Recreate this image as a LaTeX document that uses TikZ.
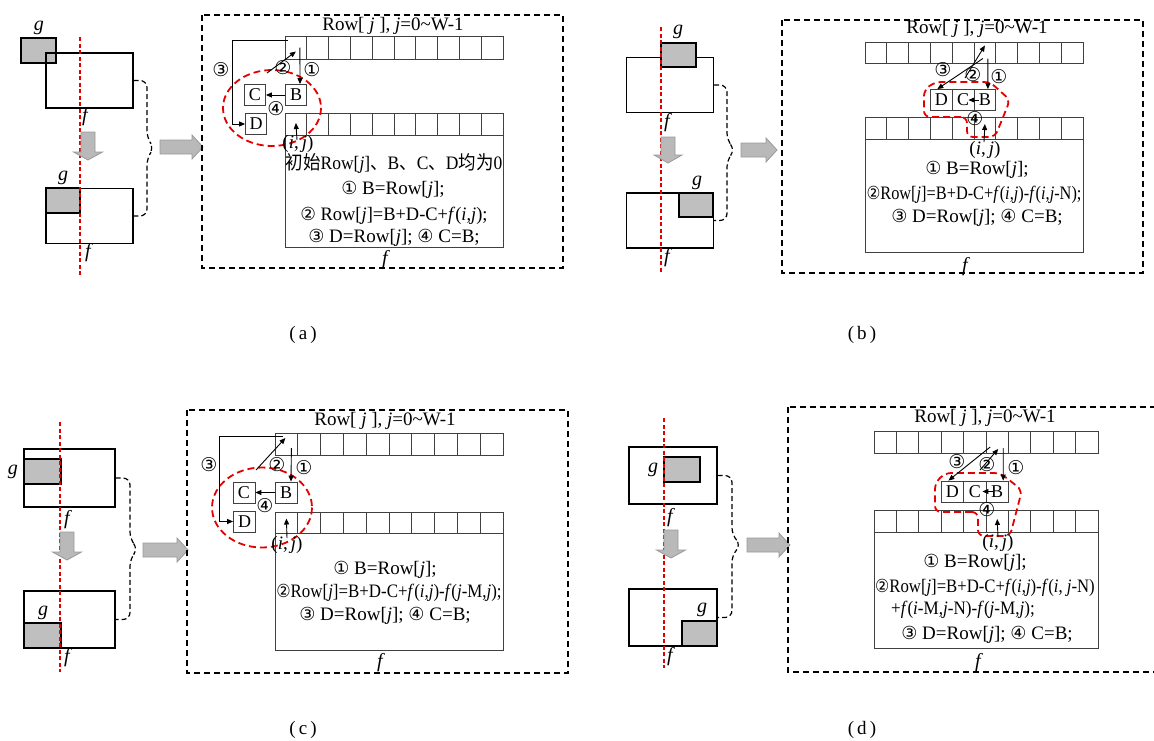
\documentclass[tikz,border=0pt]{standalone}
\usepackage{fontspec}
\usepackage{graphicx}
\setmainfont{Liberation Serif}
\newfontfamily\cjk{Noto Sans CJK SC}
\newfontfamily\circfont{DejaVu Sans}
\usetikzlibrary{arrows.meta, positioning}

\newcommand{\ci}[1]{{\circfont\fontsize{18}{18}\selectfont #1}}
\newcommand{\zh}[1]{{\cjk #1}}
\newcommand{\jj}{\textit{j}}

\tikzset{
  plane/.style={draw, line width=1.3pt, minimum width=87, minimum height=55, inner sep=0},
  tmpl/.style={draw, line width=1.3pt, fill=gray!50, inner sep=0},
  lab/.style={font=\fontsize{20}{20}\selectfont\itshape, inner sep=0},
  axis/.style={red!90!black, line width=1.1pt, dash pattern=on 4pt off 2.5pt},
  brace/.style={line width=1.2pt, dash pattern=on 5pt off 3pt, rounded corners=7},
  fat/.style={draw=gray!80, fill=gray!55, line width=0.8pt},
  panel/.style={line width=1.3pt, dash pattern=on 6pt off 4pt},
  cell/.style={draw=black!75, line width=0.8pt, inner sep=0},
  reg/.style={draw=black!75, line width=0.8pt, minimum width=21, minimum height=21, inner sep=0, font=\fontsize{18}{18}\selectfont},
  win/.style={red!90!black, line width=1.8pt, dash pattern=on 7pt off 4pt},
  flow/.style={-{Triangle[length=6pt,width=5pt]}, line width=0.9pt},
  num/.style={font=\circfont\fontsize{19}{19}\selectfont, inner sep=0},
  txt/.style={font=\fontsize{19}{19}\selectfont, inner sep=0},
}

\begin{document}
\begin{tikzpicture}[x=1pt, y=-1pt]
\useasboundingbox (0,0) rectangle (1154,740);

% ---------- (a) ----------
\node[tmpl, minimum width=35, minimum height=25] (ga1) at (38.5,50.5) {};
\node[plane] (fa1) at (89.5,80.5) {};
\node[lab] (lga1) at (39,28) {g};
\node[lab] (lfa1) at (85,117) {f};
\node[plane] (fa2) at (89.5,216) {};
\node[tmpl, minimum width=34, minimum height=25] (ga2) at (63,200.5) {};
\node[lab] (lga2) at (63,178) {g};
\node[lab] (lfa2) at (88,253) {f};
\draw[axis] (80,37) -- (80,277);
\filldraw[fat] (81,132) -- (81,152) -- (73.5,152) -- (88,160) -- (102.5,152) -- (95,152) -- (95,132) -- cycle;
\filldraw[fat] (160,140) -- (192,140) -- (192,135) -- (203,147) -- (192,159) -- (192,154) -- (160,154) -- cycle;
\coordinate (tipa) at (154,148);
\draw[brace] (fa1.east) -| (147,138) -- (tipa) -- (147,158) |- (fa2.east);

\draw[panel] (202,15) rectangle (563,268);
\node[txt] (tia) at (393,26) {Row[ \jj\ ], \jj=0\textasciitilde W-1};
\node[cell, minimum width=218, minimum height=134] (Fa) at (394,180) {};
\foreach \k in {1,...,10} {
  \node[cell, minimum width=21.8, minimum height=23] (ta\k) at ({274.1+21.8*\k},47.5) {};
  \node[cell, minimum width=21.8, minimum height=22] (ba\k) at ({274.1+21.8*\k},124) {};
}
\node[reg] (Ba) at (296,95) {B};
\node[reg] (Ca) at (255,95) {C};
\node[reg] (Da) at (256,124) {D};
\draw[win] (272,108) ellipse (49 and 38);
\coordinate (s2a) at (267,73);
\coordinate (ija) at (297,140);
\draw[flow] ([xshift=4]ta1.center) -- ([xshift=4]Ba.north);
\draw[flow] (s2a) -- ([yshift=-4]ta1.center);
\draw[flow] ([shift={(3,5)}]ta1.north west) -- ++(-55,0) |- (Da.west);
\draw[flow] (Ba.west) -- (Ca.east);
\draw[flow] (ija) -- ([yshift=1]ba1.center);
\node[num] (n3a) at (221,70) {③};
\node[num] (n2a) at (283,68) {②};
\node[num] (n1a) at (312,70) {①};
\node[num] (n4a) at (276,109) {④};
\node[txt] (ija-l) at (298,144) {(\textit{i},\,\jj)};
\node[txt] (la1) at (394,164) {\scalebox{0.92}[1]{\zh{初始}Row[\jj]\zh{、}B\zh{、}C\zh{、}D\zh{均为}0}};
\node[txt] (la2) at (393,190) {\ci{①} B=Row[\jj];};
\node[txt] (la3) at (394,216) {\scalebox{0.97}[1]{\ci{②} Row[\jj]=B+D-C+\textit{f}(\textit{i},\jj);}};
\node[txt] (la4) at (394,238) {\ci{③} D=Row[\jj]; \ci{④} C=B;};
\node[lab] (lFa) at (385,260) {f};
\node[txt] (capa) at (303,335) {(\,a\,)};

% ---------- (b) ----------
\node[plane] (fb1) at (670,85) {};
\node[tmpl, minimum width=35, minimum height=24] (gb1) at (678.5,55) {};
\node[lab] (lgb1) at (678,32) {g};
\node[lab] (lfb1) at (667,123) {f};
\node[plane] (fb2) at (670,220.5) {};
\node[tmpl, minimum width=34, minimum height=24] (gb2) at (696,205) {};
\node[lab] (lgb2) at (697,183) {g};
\node[lab] (lfb2) at (667,258) {f};
\draw[axis] (661,27) -- (661,272);
\filldraw[fat] (661,137) -- (661,155) -- (654,155) -- (668,163) -- (682,155) -- (675,155) -- (675,137) -- cycle;
\filldraw[fat] (741,143) -- (766,143) -- (766,138) -- (777,150) -- (766,162) -- (766,157) -- (741,157) -- cycle;
\coordinate (tipb) at (735,150);
\draw[brace] (fb1.east) -| (727,140) -- (tipb) -- (727,160) |- (fb2.east);

\draw[panel] (782,20) rectangle (1143,273);
\node[txt] (tib) at (977,29) {Row[ \jj\ ], \jj=0\textasciitilde W-1};
\node[cell, minimum width=218, minimum height=135] (Fb) at (974,184.5) {};
\foreach \k in {1,...,10} {
  \node[cell, minimum width=21.8, minimum height=21] (tb\k) at ({854.1+21.8*\k},52.5) {};
  \node[cell, minimum width=21.8, minimum height=22] (bb\k) at ({854.1+21.8*\k},128) {};
}
\node[reg, minimum width=21.8] (Db) at (941.3,100) {D};
\node[reg, minimum width=21.8] (Cb) at (963.1,100) {C};
\node[reg, minimum width=21.8] (Bb) at (984.9,100) {B};
\draw[win, rounded corners=6] (967,117) -- (924,117) -- (924,90) -- (935,82) -- (990,82) -- (1010,100) -- (995,137) -- (967,137) -- cycle;
\coordinate (s2b) at (965,78);
\coordinate (ijb) at (984,142);
\draw[flow] ([shift={(3,6)}]tb6.center) -- ([xshift=3]Bb.north);
\draw[flow] ([shift={(-2,6)}]tb6.center) -- ([xshift=-4]Db.north);
\draw[flow] (s2b) -- ([yshift=7]tb6.center);
\draw[flow] ([xshift=5]Bb.west) -- ([xshift=-6]Cb.east);
\draw[flow] (ijb) -- ([yshift=4]bb6.center);
\node[num] (n3b) at (943,70) {③};
\node[num] (n2b) at (973,75) {②};
\node[num] (n1b) at (999,77) {①};
\node[num] (n4b) at (975,119) {④};
\node[txt] (ijb-l) at (985,150) {(\textit{i},\,\jj)};
\node[txt] (lb1) at (977,170) {\ci{①} B=Row[\jj];};
\node[txt] (lb2) at (974,195) {\scalebox{0.86}[1]{\ci{②}Row[\jj]=B+D-C+\textit{f}(\textit{i},\jj)-\textit{f}(\textit{i},\jj-N);}};
\node[txt] (lb3) at (977,218) {\ci{③} D=Row[\jj]; \ci{④} C=B;};
\node[lab] (lFb) at (965,267) {f};
\node[txt] (capb) at (862,335) {(\,b\,)};

% ---------- (c) ----------
\node[plane, minimum width=91, minimum height=58] (fc1) at (69.5,478) {};
\node[tmpl, minimum width=37, minimum height=25] (gc1) at (42.5,471.5) {};
\node[lab] (lgc1) at (13,472) {g};
\node[lab] (lfc1) at (67,520) {f};
\node[plane, minimum width=91, minimum height=57] (fc2) at (69.5,619.5) {};
\node[tmpl, minimum width=37, minimum height=25] (gc2) at (42.5,635.5) {};
\node[lab] (lgc2) at (43,613) {g};
\node[lab] (lfc2) at (67,658) {f};
\draw[axis] (60,422) -- (60,672);
\filldraw[fat] (60,532) -- (60,552) -- (52.5,552) -- (67,560) -- (81.5,552) -- (74,552) -- (74,532) -- cycle;
\filldraw[fat] (143,543) -- (177,543) -- (177,538) -- (188,550) -- (177,562) -- (177,557) -- (143,557) -- cycle;
\coordinate (tipc) at (138,549);
\draw[brace] (fc1.east) -| (130,539) -- (tipc) -- (130,559) |- (fc2.east);

\draw[panel] (187,410) rectangle (568,673);
\node[txt] (tic) at (385,421) {Row[ \jj\ ], \jj=0\textasciitilde W-1};
\node[cell, minimum width=228, minimum height=138] (Fc) at (389,581) {};
\foreach \k in {1,...,10} {
  \node[cell, minimum width=22.8, minimum height=22] (tc\k) at ({263.6+22.8*\k},444) {};
  \node[cell, minimum width=22.8, minimum height=21] (bc\k) at ({263.6+22.8*\k},522.5) {};
}
\node[reg, minimum width=22] (Bc) at (286,492.5) {B};
\node[reg, minimum width=22] (Cc) at (244,492.5) {C};
\node[reg, minimum width=22] (Dc) at (244.5,521.5) {D};
\draw[win] (262,507.5) ellipse (50 and 40);
\coordinate (s2c) at (256,470);
\coordinate (ijc) at (287,538);
\draw[flow] ([shift={(5,4)}]tc1.center) -- ([xshift=5]Bc.north);
\draw[flow] (s2c) -- ([shift={(-1,-6)}]tc1.center);
\draw[flow] ([shift={(8,4)}]tc1.north west) -- ++(-63,0) |- (Dc.west);
\draw[flow] (Bc.west) -- (Cc.east);
\draw[flow] (ijc) -- ([yshift=4]bc1.center);
\node[num] (n3c) at (209,465) {③};
\node[num] (n2c) at (277,465) {②};
\node[num] (n1c) at (304,468) {①};
\node[num] (n4c) at (265,506) {④};
\node[txt] (ijc-l) at (287,545) {(\textit{i},\,\jj)};
\node[txt] (lc1) at (385,570) {\ci{①} B=Row[\jj];};
\node[txt] (lc2) at (389,593) {\scalebox{0.89}[1]{\ci{②}Row[\jj]=B+D-C+\textit{f}(\textit{i},\jj)-\textit{f}(\jj-M,\jj);}};
\node[txt] (lc3) at (385,616) {\ci{③} D=Row[\jj]; \ci{④} C=B;};
\node[lab] (lFc) at (380,663) {f};
\node[txt] (capc) at (303,730) {(\,c\,)};

% ---------- (d) ----------
\node[plane, minimum width=88, minimum height=57] (fd1) at (673,475.5) {};
\node[tmpl, minimum width=36, minimum height=25] (gd1) at (682,469.5) {};
\node[lab] (lgd1) at (653,470) {g};
\node[lab] (lfd1) at (670,518) {f};
\node[plane, minimum width=88, minimum height=57] (fd2) at (673,617.5) {};
\node[tmpl, minimum width=35, minimum height=25] (gd2) at (699.5,633.5) {};
\node[lab] (lgd2) at (702,610) {g};
\node[lab] (lfd2) at (670,657) {f};
\draw[axis] (664,418) -- (664,668);
\filldraw[fat] (664,530) -- (664,550) -- (656.5,550) -- (671,558) -- (685.5,550) -- (678,550) -- (678,530) -- cycle;
\filldraw[fat] (747,538) -- (779,538) -- (779,533) -- (790,545) -- (779,557) -- (779,552) -- (747,552) -- cycle;
\coordinate (tipd) at (741,545);
\draw[brace] (fd1.east) -| (732,535) -- (tipd) -- (732,555) |- (fd2.east);

\draw[panel] (788,407) rectangle (1162,672);
\node[txt] (tid) at (985,418) {Row[ \jj\ ], \jj=0\textasciitilde W-1};
\node[cell, minimum width=224, minimum height=138] (Fd) at (986,579) {};
\foreach \k in {1,...,10} {
  \node[cell, minimum width=22.4, minimum height=22] (td\k) at ({862.8+22.4*\k},442) {};
  \node[cell, minimum width=22.4, minimum height=22] (bd\k) at ({862.8+22.4*\k},521) {};
}
\node[reg, minimum width=22.4] (Dd) at (952.4,491.5) {D};
\node[reg, minimum width=22.4] (Cd) at (974.8,491.5) {C};
\node[reg, minimum width=22.4] (Bd) at (997.2,491.5) {B};
\draw[win, rounded corners=6] (978,512) -- (935,512) -- (935,483) -- (945,473) -- (1000,473) -- (1022,490) -- (1010,536) -- (978,536) -- cycle;
\coordinate (s2d) at (980,470);
\coordinate (ijd) at (998,537);
\draw[flow] ([shift={(6,6)}]td6.center) -- ([xshift=6]Bd.north);
\draw[flow] ([shift={(-7,5)}]td6.center) -- ([xshift=-4]Dd.north);
\draw[flow] (s2d) -- ([shift={(1,7)}]td6.center);
\draw[flow] ([xshift=7]Bd.west) -- ([xshift=-4]Cd.east);
\draw[flow] (ijd) -- ([yshift=2]bd6.center);
\node[num] (n3d) at (957,462) {③};
\node[num] (n2d) at (987,465) {②};
\node[num] (n1d) at (1016,468) {①};
\node[num] (n4d) at (987,510) {④};
\node[txt] (ijd-l) at (998,543) {(\textit{i},\,\jj)};
\node[txt] (ld1) at (975,563) {\ci{①} B=Row[\jj];};
\node[txt] (ld2) at (985,588) {\scalebox{0.88}[1]{\ci{②}Row[\jj]=B+D-C+\textit{f}(\textit{i},\jj)-\textit{f}(\textit{i}, \jj-N)}};
\node[txt] (ld3) at (963,610) {\scalebox{0.9}[1]{+\textit{f}(\textit{i}-M,\jj-N)-\textit{f}(\jj-M,\jj);}};
\node[txt] (ld4) at (987,635) {\ci{③} D=Row[\jj]; \ci{④} C=B;};
\node[lab] (lFd) at (978,663) {f};
\node[txt] (capd) at (862,730) {(\,d\,)};
\end{tikzpicture}
\end{document}
